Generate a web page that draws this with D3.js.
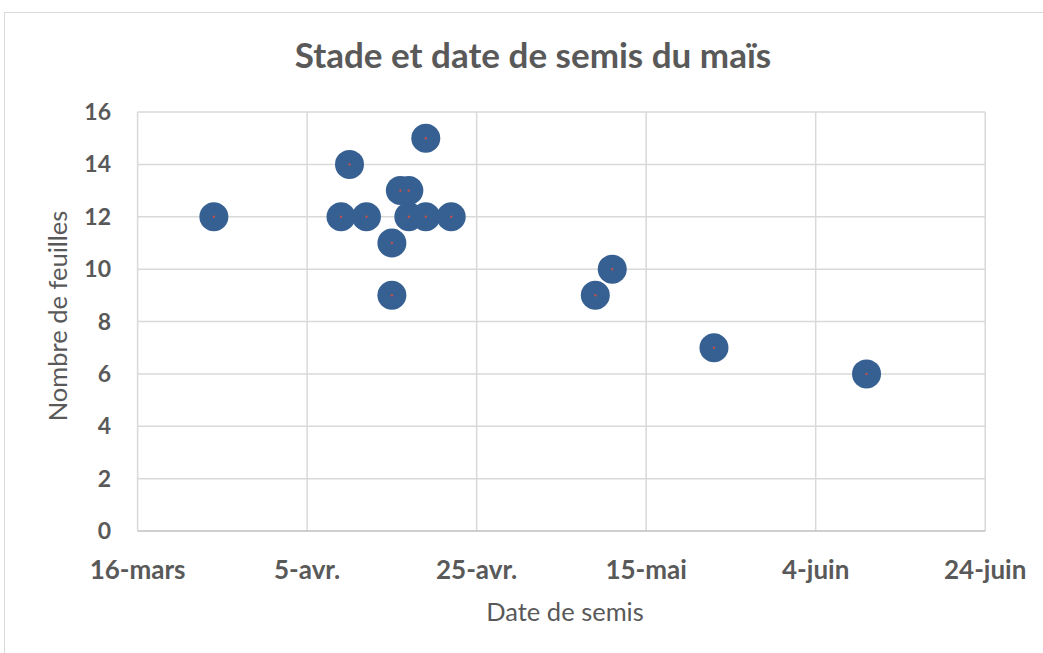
<!DOCTYPE html>
<html>
<head>
<meta charset="utf-8">
<script src="https://cdn.jsdelivr.net/npm/d3@7"></script>
<style>
  body { margin: 0; background: #fff; }
  text { font-family: Lato, "Open Sans", sans-serif; fill: #595959; }
</style>
</head>
<body>
<svg id="chart" width="1043" height="653"></svg>
<script>
// sowing dates (day in 2019) and leaf counts
const sowDates = ['2019-03-25', '2019-04-09', '2019-04-10', '2019-04-12', '2019-04-15', '2019-04-15',
  '2019-04-16', '2019-04-17', '2019-04-17', '2019-04-19', '2019-04-19', '2019-04-22',
  '2019-05-09', '2019-05-11', '2019-05-23', '2019-06-10'];
const leaves = [12, 12, 14, 12, 11, 9, 13, 13, 12, 15, 12, 12, 9, 10, 7, 6];
const xTickDates = ['2019-03-16', '2019-04-05', '2019-04-25', '2019-05-15', '2019-06-04', '2019-06-24'];
const xTickLabels = ['16-mars', '5-avr.', '25-avr.', '15-mai', '4-juin', '24-juin'];
const yTicks = [0, 2, 4, 6, 8, 10, 12, 14, 16];

const parse = d3.utcParse('%Y-%m-%d');
const points = sowDates.map((d, i) => ({ date: parse(d), n: leaves[i] }));

const svg = d3.select('#chart');
const plotLeft = 137.6, plotRight = 985.2, plotTop = 112, plotBottom = 531;

const x = d3.scaleUtc().domain([parse(xTickDates[0]), parse(xTickDates[xTickDates.length - 1])]).range([plotLeft, plotRight]);
const y = d3.scaleLinear().domain([0, 16]).range([plotBottom, plotTop]);

// chart frame
svg.append('rect').attr('x', 4.5).attr('y', 12.5).attr('width', 1060).attr('height', 660)
  .attr('fill', 'none').attr('stroke', '#d9d9d9').attr('stroke-width', 1);

// gridlines
svg.append('g').selectAll('line').data(yTicks.slice(1)).enter().append('line')
  .attr('x1', plotLeft).attr('x2', plotRight).attr('y1', d => y(d)).attr('y2', d => y(d))
  .attr('stroke', '#d9d9d9').attr('stroke-width', 1.5);
svg.append('g').selectAll('line').data(xTickDates.slice(1)).enter().append('line')
  .attr('x1', d => x(parse(d))).attr('x2', d => x(parse(d))).attr('y1', plotTop).attr('y2', plotBottom)
  .attr('stroke', '#d9d9d9').attr('stroke-width', 1.5);

// axis lines
svg.append('line').attr('x1', plotLeft).attr('x2', plotRight).attr('y1', plotBottom).attr('y2', plotBottom)
  .attr('stroke', '#bfbfbf').attr('stroke-width', 1.5);
svg.append('line').attr('x1', plotLeft).attr('x2', plotLeft).attr('y1', plotTop).attr('y2', plotBottom)
  .attr('stroke', '#d9d9d9').attr('stroke-width', 1.5);

// y tick labels
svg.append('g').selectAll('text').data(yTicks).enter().append('text')
  .attr('x', 111).attr('y', d => y(d) + 8)
  .attr('text-anchor', 'end').attr('font-size', 23).attr('font-weight', 'bold')
  .text(d => d);

// x tick labels
svg.append('g').selectAll('text').data(xTickDates).enter().append('text')
  .attr('x', d => x(parse(d))).attr('y', 579)
  .attr('text-anchor', 'middle').attr('font-size', 26).attr('font-weight', 'bold')
  .text((d, i) => xTickLabels[i]);

// titles
svg.append('text').attr('x', 533).attr('y', 67.5).attr('text-anchor', 'middle')
  .attr('font-size', 35).attr('font-weight', 'bold').text('Stade et date de semis du maïs');
svg.append('text').attr('x', 565).attr('y', 621).attr('text-anchor', 'middle')
  .attr('font-size', 25.5).text('Date de semis');
svg.append('text').attr('transform', 'translate(67, 316) rotate(-90)')
  .attr('text-anchor', 'middle').attr('font-size', 25.5).text('Nombre de feuilles');

// markers
const g = svg.append('g');
g.selectAll('circle.pt').data(points).enter().append('circle')
  .attr('class', 'pt')
  .attr('cx', d => x(d.date)).attr('cy', d => y(d.n)).attr('r', 14.5)
  .attr('fill', '#376092');
g.selectAll('circle.dot').data(points).enter().append('circle')
  .attr('class', 'dot')
  .attr('cx', d => x(d.date)).attr('cy', d => y(d.n)).attr('r', 1.2)
  .attr('fill', '#c0504d');
</script>
</body>
</html>
